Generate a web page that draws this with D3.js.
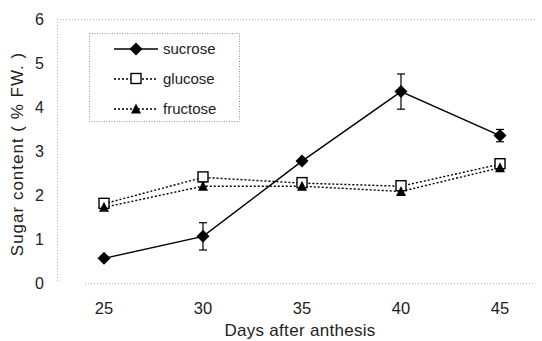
<!DOCTYPE html>
<html>
<head>
<meta charset="utf-8">
<script src="https://cdn.jsdelivr.net/npm/d3@7"></script>
<style>
  body { margin: 0; background: #fff; }
  text { font-family: "Liberation Sans", Arial, sans-serif; fill: #222; }
</style>
</head>
<body>
<svg width="542" height="341"></svg>
<script>
// days after anthesis
const days = [25, 30, 35, 40, 45];
const yTicks = [0, 1, 2, 3, 4, 5, 6];

const sucrose = [0.56, 1.06, 2.77, 4.35, 3.35];
const sucroseErr = [0.05, 0.31, 0.05, 0.40, 0.14];
const glucose = [1.80, 2.40, 2.27, 2.20, 2.70];
const glucoseErr = [0.04, 0.10, 0.04, 0.05, 0.05];
const fructose = [1.72, 2.20, 2.20, 2.08, 2.62];

const series = [
  { name: 'sucrose', values: sucrose, err: sucroseErr, dash: null, marker: 'diamond' },
  { name: 'glucose', values: glucose, err: glucoseErr, dash: '2,2', marker: 'square' },
  { name: 'fructose', values: fructose, err: null, dash: '2,2', marker: 'triangle' }
];

const svg = d3.select('svg');

const x = d3.scaleLinear().domain([25, 45]).range([104, 500]);
const y = d3.scaleLinear().domain([0, 6]).range([283, 19]);

// faint frame
const frame = svg.append('g')
  .attr('stroke', '#b5b5b5')
  .attr('stroke-width', 1)
  .attr('stroke-dasharray', '1,2');
frame.append('line').attr('x1', 57.5).attr('x2', 57.5).attr('y1', y(6)).attr('y2', y(0));
frame.append('line').attr('x1', 57).attr('x2', 535).attr('y1', y(6) + 0.5).attr('y2', y(6) + 0.5);
frame.append('line').attr('x1', 85).attr('x2', 535).attr('y1', y(0) + 0.5).attr('y2', y(0) + 0.5);

// y axis labels
svg.append('g')
  .selectAll('text')
  .data(yTicks)
  .enter()
  .append('text')
  .attr('x', 44)
  .attr('y', d => y(d) + 6)
  .attr('text-anchor', 'end')
  .attr('font-size', 16)
  .text(d => d);

// x axis labels
svg.append('g')
  .selectAll('text')
  .data(days)
  .enter()
  .append('text')
  .attr('x', d => x(d))
  .attr('y', 314)
  .attr('text-anchor', 'middle')
  .attr('font-size', 16.5)
  .text(d => d);

svg.append('text')
  .attr('x', 300)
  .attr('y', 336)
  .attr('text-anchor', 'middle')
  .attr('font-size', 17)
  .attr('letter-spacing', 0.3)
  .text('Days after anthesis');

svg.append('text')
  .attr('transform', 'translate(23,' + 154 + ') rotate(-90)')
  .attr('text-anchor', 'middle')
  .attr('font-size', 17)
  .attr('letter-spacing', 1)
  .text('Sugar content ( % FW. )');

function drawMarker(g, type, cx, cy) {
  if (type === 'diamond') {
    g.append('path')
      .attr('d', `M${cx},${cy - 6.5}L${cx + 6.5},${cy}L${cx},${cy + 6.5}L${cx - 6.5},${cy}Z`)
      .attr('fill', '#000');
  } else if (type === 'square') {
    g.append('rect')
      .attr('x', cx - 5).attr('y', cy - 5.5).attr('width', 10).attr('height', 10)
      .attr('fill', '#fff').attr('stroke', '#000').attr('stroke-width', 1.4);
  } else {
    g.append('path')
      .attr('d', `M${cx},${cy - 5.5}L${cx + 5},${cy + 4.5}L${cx - 5},${cy + 4.5}Z`)
      .attr('fill', '#000');
  }
}

const line = d3.line()
  .x((d, i) => x(days[i]))
  .y(d => y(d));

const plot = svg.append('g');
series.forEach(s => {
  plot.append('path')
    .datum(s.values)
    .attr('d', line)
    .attr('fill', 'none')
    .attr('stroke', '#000')
    .attr('stroke-width', 1.4)
    .attr('stroke-dasharray', s.dash);
});

// error bars
series.filter(s => s.err).forEach(s => {
  s.values.forEach((v, i) => {
    const cx = x(days[i]);
    const g = plot.append('g').attr('stroke', '#000').attr('stroke-width', 1.2);
    g.append('line').attr('x1', cx).attr('x2', cx).attr('y1', y(v - s.err[i])).attr('y2', y(v + s.err[i]));
    g.append('line').attr('x1', cx - 4).attr('x2', cx + 4).attr('y1', y(v - s.err[i])).attr('y2', y(v - s.err[i]));
    g.append('line').attr('x1', cx - 4).attr('x2', cx + 4).attr('y1', y(v + s.err[i])).attr('y2', y(v + s.err[i]));
  });
});

series.forEach(s => {
  s.values.forEach((v, i) => drawMarker(plot, s.marker, x(days[i]), y(v)));
});

// legend
const legend = svg.append('g');
legend.append('rect')
  .attr('x', 89.5).attr('y', 33.5).attr('width', 150).attr('height', 88)
  .attr('fill', '#fff')
  .attr('stroke', '#999')
  .attr('stroke-dasharray', '1,1.5');
series.forEach((s, i) => {
  const ly = 49 + i * 30;
  legend.append('line')
    .attr('x1', 114).attr('x2', 158).attr('y1', ly).attr('y2', ly)
    .attr('stroke', '#000').attr('stroke-width', 1.4)
    .attr('stroke-dasharray', s.dash);
  drawMarker(legend, s.marker, 136, ly);
  legend.append('text')
    .attr('x', 163).attr('y', ly + 5)
    .attr('font-size', 15)
    .text(s.name);
});
</script>
</body>
</html>
